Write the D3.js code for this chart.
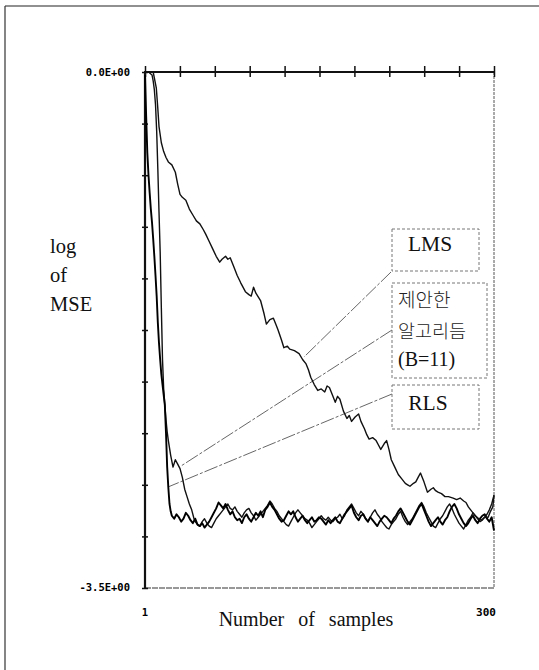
<!DOCTYPE html>
<html><head><meta charset="utf-8">
<script src="https://cdn.jsdelivr.net/npm/d3@7/dist/d3.min.js"></script>
<style>body{margin:0;background:#fff}svg{display:block}</style>
</head><body><svg id="c" width="539" height="670"></svg>
<script>
// ---- data ----
const lmsSamples = [1,7,8,9,10.7,12,13,15,17,19,21,24,27,29,31,33,36,39,42,45,48,51,53,56,59,62,65,67,70,72,74,77,80,83,87,90,92,94,96,100,103,105,108,111,113,115,118,120,123,125,129,133,136,139,141,143,146,149,152,155,157,159,162,164,166,168,171,174,176,178,181,184,186,189,191,193,196,199,201,203,206,208,210,212,215,218,221,224,226,228,231,233,235,237,240,243,246,248,250,252,255,258,261,265,268,271,274,276,278,280,282,284,287,289,292,295,297,299,300];
const lmsValues = [0,0,0,-0.04,-0.11,-0.25,-0.37,-0.48,-0.54,-0.58,-0.61,-0.63,-0.68,-0.76,-0.83,-0.85,-0.87,-0.93,-0.97,-1.01,-1.03,-1.07,-1.10,-1.15,-1.20,-1.25,-1.29,-1.27,-1.25,-1.27,-1.26,-1.32,-1.38,-1.43,-1.49,-1.51,-1.52,-1.46,-1.50,-1.55,-1.64,-1.71,-1.68,-1.67,-1.71,-1.75,-1.82,-1.87,-1.86,-1.88,-1.89,-1.91,-1.95,-1.98,-2.02,-2.07,-2.12,-2.16,-2.15,-2.17,-2.13,-2.14,-2.20,-2.24,-2.20,-2.22,-2.30,-2.35,-2.33,-2.37,-2.34,-2.32,-2.37,-2.42,-2.46,-2.49,-2.48,-2.50,-2.53,-2.56,-2.52,-2.50,-2.56,-2.63,-2.68,-2.73,-2.76,-2.79,-2.80,-2.81,-2.79,-2.78,-2.75,-2.72,-2.78,-2.85,-2.83,-2.82,-2.84,-2.85,-2.86,-2.88,-2.88,-2.89,-2.90,-2.89,-2.91,-2.92,-2.95,-2.97,-2.99,-3.01,-3.03,-3.04,-3.02,-3.02,-2.98,-2.95,-2.87];

const rlsSamples = [1,2,3,4,5,6,7,8,9,10,11,12,13,14,15,16,17,18,19,20,21,22,23,24,26,28,30,32,34,36,38,40,42,44,46,48,50,52,54,56,58,60,62,64,66,68,70,72,74,76,78,80,82,84,86,88,90,92,94,96,98,100,102,104,106,108,110,112,114,116,118,120,122,124,126,128,130,132,134,136,138,140,142,144,146,148,150,152,154,156,158,160,162,164,166,168,170,172,174,176,178,180,182,184,186,188,190,192,194,196,198,200,202,204,206,208,210,212,214,216,218,220,222,224,226,228,230,232,234,236,238,240,242,244,246,248,250,252,254,256,258,260,262,264,266,268,270,272,274,276,278,280,282,284,286,288,290,292,294,296,298,300];
const rlsValues = [-0.02,-0.30,-0.55,-0.70,-0.82,-0.93,-1.02,-1.13,-1.25,-1.38,-1.52,-1.70,-1.84,-1.95,-2.05,-2.12,-2.19,-2.26,-2.45,-2.68,-2.82,-2.93,-2.98,-3.01,
-3.03,-3.00,-3.02,-3.05,-3.03,-2.99,-3.01,-3.04,-3.06,-3.03,-3.07,-3.08,-3.06,-3.09,-3.07,-3.05,-3.02,-2.99,-2.96,-2.92,-2.94,-2.96,-2.93,-2.97,-3.00,-2.98,-3.02,-3.04,-3.03,-3.06,-3.02,-3.00,-3.03,-3.05,-3.02,-2.99,-3.01,-2.98,-3.02,-2.97,-2.95,-2.92,-2.95,-2.97,-3.00,-3.03,-3.05,-3.04,-3.01,-2.98,-3.00,-2.98,-3.02,-3.05,-3.03,-3.01,-3.04,-3.06,-3.04,-3.02,-3.05,-3.04,-3.02,-3.03,-3.05,-3.07,-3.04,-3.06,-3.04,-3.02,-3.05,-3.06,-3.03,-3.00,-2.98,-2.96,-2.94,-2.99,-3.02,-3.04,-3.01,-3.00,-3.03,-3.05,-3.02,-3.04,-3.06,-3.08,-3.05,-3.03,-3.01,-3.02,-3.04,-3.06,-3.03,-3.01,-2.98,-2.96,-2.99,-3.02,-3.05,-3.07,-3.04,-3.01,-2.98,-2.95,-2.93,-2.97,-3.01,-3.05,-3.08,-3.06,-3.04,-3.02,-3.05,-3.07,-3.04,-3.02,-2.98,-2.95,-2.93,-2.96,-3.00,-3.03,-3.06,-3.08,-3.06,-3.03,-3.01,-3.04,-3.06,-3.03,-3.01,-3.00,-3.03,-3.05,-3.02,-3.11];

const propSamples = [1,4,7,8,9,10,11,12,13,14,15,16,17,18,19,20,21,23,25,27,29,31,33,35,37,39,41,43,44,46,48,50,52,54,56,58,60,62,64,66,68,70,72,74,76,78,80,82,84,86,88,90,92,94,96,98,100,102,104,106,108,110,112,114,116,118,120,122,124,126,128,130,132,134,136,138,140,142,144,146,148,150,152,154,156,158,160,162,164,166,168,170,172,174,176,178,180,182,184,186,188,190,192,194,196,198,200,202,204,206,208,210,212,214,216,218,220,222,224,226,228,230,232,234,236,238,240,242,244,246,248,250,252,254,256,258,260,262,264,266,268,270,272,274,276,278,280,282,284,286,288,290,292,294,296,298,300];
const propValues = [0,0,-0.02,-0.06,-0.12,-0.22,-0.40,-0.66,-0.95,-1.22,-1.60,-1.95,-2.15,-2.26,-2.36,-2.44,-2.50,-2.60,-2.68,-2.63,-2.66,-2.69,-2.75,-2.83,-2.88,-2.93,-2.97,-3.03,
-3.05,-3.07,-3.08,-3.05,-3.03,-3.06,-3.08,-3.09,-3.06,-3.03,-3.01,-2.99,-2.97,-2.95,-2.93,-2.96,-2.97,-2.95,-2.98,-3.00,-3.02,-2.99,-2.97,-2.96,-2.99,-3.01,-3.04,-3.02,-3.00,-2.98,-2.96,-2.94,-2.91,-2.93,-2.96,-2.98,-3.01,-3.03,-3.05,-3.07,-3.08,-3.05,-3.02,-2.99,-2.97,-2.99,-3.01,-3.03,-3.04,-3.06,-3.09,-3.07,-3.05,-3.03,-3.01,-3.03,-3.04,-3.02,-3.04,-3.05,-3.03,-3.02,-3.00,-3.03,-3.01,-2.97,-2.95,-2.93,-2.96,-2.99,-3.01,-2.98,-3.00,-3.03,-3.05,-3.02,-2.99,-2.97,-3.00,-3.02,-3.05,-3.07,-3.09,-3.10,-3.07,-3.05,-3.03,-3.00,-2.98,-3.02,-3.05,-3.07,-3.05,-3.03,-3.00,-2.97,-2.94,-2.92,-2.95,-2.99,-3.02,-3.05,-3.08,-3.09,-3.06,-3.03,-3.01,-2.98,-2.95,-2.93,-2.96,-3.00,-3.03,-3.06,-3.08,-3.10,-3.07,-3.04,-3.02,-2.99,-3.01,-3.03,-3.05,-3.04,-3.02,-3.00,-2.97,-2.93,-2.87];

const xDomain = [1, 300];
const yDomain = [0, -3.5];
const xTickCount = 10;   // intervals on top axis
const yTickCount = 10;   // intervals on left axis
const yEndLabels = ["0.0E+00", "-3.5E+00"];
const xEndLabels = ["1", "300"];
const yTitle = ["log", "of", "MSE"];
const xTitle = "Number of samples";
const legendLMS = "LMS";
const legendProp = ["제안한", "알고리듬", "(B=11)"];
const legendRLS = "RLS";

// ---- drawing ----
const svg = d3.select("#c");
const L = 145, R = 494, T = 72, B = 588;
const x = d3.scaleLinear().domain(xDomain).range([L, R]);
const y = d3.scaleLinear().domain(yDomain).range([T, B]);

// outer frame
svg.append("line").attr("x1",5).attr("y1",6).attr("x2",539).attr("y2",6).attr("stroke","#222").attr("stroke-width",1.2);
svg.append("line").attr("x1",5).attr("y1",6).attr("x2",5).attr("y2",670).attr("stroke","#333").attr("stroke-width",1.2);

const xt = d3.range(0, xTickCount + 1).map(k => xDomain[0] + k * (xDomain[1]-xDomain[0]) / xTickCount);
const yt = d3.range(0, yTickCount + 1).map(k => yDomain[0] + k * (yDomain[1]-yDomain[0]) / yTickCount);

// right & bottom frame (light)
svg.append("line").attr("x1",R).attr("y1",T).attr("x2",R).attr("y2",B).attr("stroke","#555").attr("stroke-width",1).attr("stroke-dasharray","3,1");
svg.append("line").attr("x1",L).attr("y1",B).attr("x2",R).attr("y2",B).attr("stroke","#333").attr("stroke-width",1.2).attr("stroke-dasharray","6,1");

// top axis with crossing ticks
const gTop1 = svg.append("g").attr("transform",`translate(0,${T})`).call(d3.axisTop(x).tickValues(xt).tickSize(6).tickFormat(""));
const gTop2 = svg.append("g").attr("transform",`translate(0,${T})`).call(d3.axisBottom(x).tickValues(xt).tickSize(5).tickFormat(""));
// left axis with crossing ticks
const gL1 = svg.append("g").attr("transform",`translate(${L},0)`).call(d3.axisLeft(y).tickValues(yt).tickSize(3).tickFormat(""));
const gL2 = svg.append("g").attr("transform",`translate(${L},0)`).call(d3.axisRight(y).tickValues(yt).tickSize(3).tickFormat(""));
[gTop1,gTop2,gL1,gL2].forEach(g => {
  g.select(".domain").attr("stroke","#111").attr("stroke-width",2).attr("d", null);
  g.selectAll(".tick line").attr("stroke","#111").attr("stroke-width",1.5);
});
svg.append("line").attr("x1",L-1).attr("y1",T).attr("x2",R).attr("y2",T).attr("stroke","#111").attr("stroke-width",2);
svg.append("line").attr("x1",L).attr("y1",T).attr("x2",L).attr("y2",B).attr("stroke","#111").attr("stroke-width",2.2);

// end labels
const monoBold = "'DejaVu Sans Mono', monospace";
svg.append("text").attr("x",130).attr("y",y(yDomain[0])+4).attr("text-anchor","end").attr("font-family",monoBold).attr("font-weight","bold").attr("font-size",10.5).text(yEndLabels[0]);
svg.append("text").attr("x",130).attr("y",y(yDomain[1])+3).attr("text-anchor","end").attr("font-family",monoBold).attr("font-weight","bold").attr("font-size",10.5).text(yEndLabels[1]);
svg.append("text").attr("x",x(xDomain[0])).attr("y",616).attr("text-anchor","middle").attr("font-family",monoBold).attr("font-weight","bold").attr("font-size",10.5).text(xEndLabels[0]);
svg.append("text").attr("x",x(xDomain[1])-8).attr("y",616).attr("text-anchor","middle").attr("font-family",monoBold).attr("font-weight","bold").attr("font-size",11).text(xEndLabels[1]);

// titles
const serif = "'Liberation Serif','DejaVu Serif',serif";
svg.append("text").attr("x",306).attr("y",626).attr("text-anchor","middle").attr("font-family",serif).attr("font-size",20).attr("word-spacing","9px").attr("fill","#111").text(xTitle);
[253,282,311].forEach((yy,i) => svg.append("text").attr("x",50).attr("y",yy).attr("font-family",serif).attr("font-size",20.5).attr("fill","#111").text(yTitle[i]));

// leader lines
const leaders = [[391,272,304,357],[392,330,181,466],[392,394,168,487]];
leaders.forEach(d => svg.append("line").attr("x1",d[0]).attr("y1",d[1]).attr("x2",d[2]).attr("y2",d[3]).attr("stroke","#555").attr("stroke-width",0.9).attr("stroke-dasharray","14,2,3,2"));

// series
const line = d3.line().x(d => x(d[0])).y(d => y(d[1]));
const mk = (s,v) => s.map((d,i) => [d, v[i]]);
svg.append("path").attr("d", line(mk(propSamples,propValues))).attr("fill","none").attr("stroke","#111").attr("stroke-width",1.4).attr("stroke-linejoin","round");
svg.append("path").attr("d", line(mk(rlsSamples,rlsValues))).attr("fill","none").attr("stroke","#000").attr("stroke-width",1.9).attr("stroke-linejoin","round");
svg.append("path").attr("d", line(mk(lmsSamples,lmsValues))).attr("fill","none").attr("stroke","#111").attr("stroke-width",1.4).attr("stroke-linejoin","round");

// legend boxes
const box = (x0,y0,w,h) => svg.append("rect").attr("x",x0).attr("y",y0).attr("width",w).attr("height",h).attr("fill","#fff").attr("stroke","#777").attr("stroke-width",1).attr("stroke-dasharray","3,2");
box(392,229,87,42);
box(392,283,95,95);
box(392,385,87,44);
svg.append("text").attr("x",430).attr("y",251).attr("text-anchor","middle").attr("font-family",serif).attr("font-size",21.5).attr("fill","#111").text(legendLMS);
svg.append("text").attr("x",398).attr("y",307).attr("font-family","'Noto Sans CJK KR',sans-serif").attr("font-weight",300).attr("font-size",19).attr("fill","#222").text(legendProp[0]);
svg.append("text").attr("x",398).attr("y",338).attr("font-family","'Noto Sans CJK KR',sans-serif").attr("font-weight",300).attr("font-size",18.5).attr("fill","#222").text(legendProp[1]);
svg.append("text").attr("x",398).attr("y",366).attr("font-family",serif).attr("font-size",20).attr("fill","#111").text(legendProp[2]);
svg.append("text").attr("x",428).attr("y",410).attr("text-anchor","middle").attr("font-family",serif).attr("font-size",21.5).attr("fill","#111").text(legendRLS);
</script></body></html>
